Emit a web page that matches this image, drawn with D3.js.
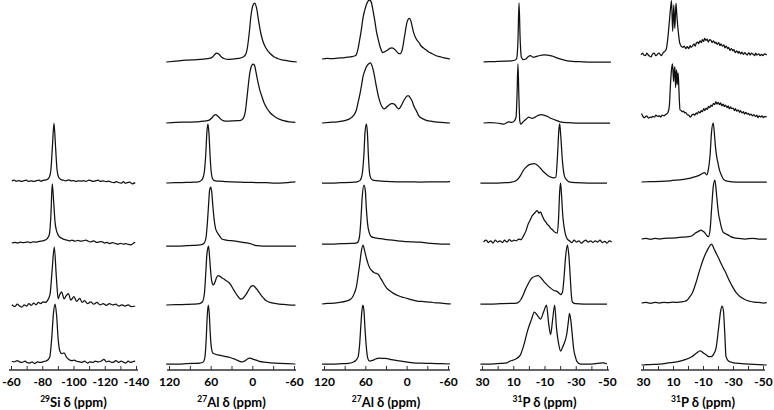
<!DOCTYPE html>
<html><head><meta charset="utf-8">
<script src="https://cdn.jsdelivr.net/npm/d3@7"></script>
<style>
body{margin:0;background:#fff}
svg{display:block}
text{font-family:Lato,"Open Sans",sans-serif;font-weight:700;fill:#000}
</style>
</head><body>
<svg id="chart" width="774" height="410"></svg>
<script>
// ---------------- DATA ----------------
// axis titles
const titleIsotopes = ["29", "27", "27", "31", "31"];
const titleElements = ["Si", "Al", "Al", "P", "P"];
const titleRest = " δ (ppm)";
// axis domains (ppm, left to right)
const axisDomains = [[-60, -140], [120, -60], [120, -60], [30, -50], [30, -50]];
// labelled ticks
const tickLabels = [
  [-60, -80, -100, -120, -140],
  [120, 60, 0, -60],
  [120, 60, 0, -60],
  [30, 10, -10, -30, -50],
  [30, 10, -10, -30, -50]
];
// all tick marks
const tickMarks = [
  [-60, -70, -80, -90, -100, -110, -120, -130, -140],
  [120, 90, 60, 30, 0, -30, -60],
  [120, 90, 60, 30, 0, -30, -60],
  [30, 20, 10, 0, -10, -20, -30, -40, -50],
  [30, 20, 10, 0, -10, -20, -30, -40, -50]
];

// spectra: flat lists of (ppm, relative intensity) pairs
// 29Si (rows 3-6)
const si29Spectra = [
  [-60.5,2,-62,3,-63.5,1.5,-65.5,2.5,-66.5,1,-68,2,-70,3,-71,1,-73,2,-74.5,1,-76,2,-78,3,-79,1.5,-81,3,-83,4,-84.5,8,-85.5,20,-86.5,60,-87.5,100,-88.5,60,-89.5,20,-90.5,8,-92,4,-93.5,3,-95,2,-97,3.5,-98.5,2,-100,2.5,-101.5,1,-103,2,-105,1.5,-106.5,2.5,-108,1,-110,3,-111.5,2,-112.5,1,-114,2,-116,3,-117,1,-119,2,-121,0.5,-122.5,1.5,-124,0,-126,-1,-127.5,0.5,-129,-1,-130.5,-2,-132,0.5,-133,-2,-134.5,-1,-136,0,-137.5,-3,-139.5,-1],
  [-60.5,0,-62.5,1,-64,0,-66,1.5,-67.5,0.5,-69,1,-71,2,-72.5,0.5,-74,2,-76,1.5,-77.5,2.5,-79,3,-81,4,-83,7,-84.5,14,-85.5,45,-86.4,100,-87.3,70,-88.2,35,-89.2,20,-90.3,13,-92.4,8,-94,6,-96,5,-97.5,3.5,-99,5,-101,3,-103,4.5,-104.5,3,-106,3.5,-108,5,-109.5,3,-111,2,-113,3.5,-115,1,-116.5,2,-118,2.5,-120,0,-121.5,1,-123,-1,-125,0.5,-127,-1,-128.5,-2,-130,-0.5,-132,-2,-133.5,-1,-135,-2.5,-137,-3,-138.5,0,-139.5,1],
  [-60.5,2,-62.5,-1,-64,3,-65.5,0,-67,-2,-68.5,2,-70,0,-71.5,4,-73,1,-74.5,5,-76,2,-77.5,6,-79,4,-80.5,7,-82,6,-83.5,10,-85,20,-86.3,60,-87.7,100,-89,50,-90.2,12,-91,18,-92.4,24,-94,12,-95.2,17,-96.7,21,-98.3,10,-100.3,16,-102,8,-104,13,-105.5,6,-107,9,-109,4,-111,7,-113,3,-115,6,-117,2,-119,4,-121,1,-123,4,-125,2,-127,3,-129,0,-131,2,-133,0,-135,2,-137,-1,-139.5,0],
  [-60.5,3,-62,2,-64,4,-65.5,2,-67,1,-69,3,-70.5,0.5,-72,0,-73.5,2,-75,-1,-77,2,-78.5,1,-80,1.5,-81.5,3,-83,4,-84.8,10,-86,40,-87.2,85,-88.2,100,-89.2,80,-90.2,40,-91.3,20,-92.5,16,-94,17,-95.5,10,-97,6,-99,4,-100.5,5,-102,3,-104,2,-105.5,1,-107,3,-109,0,-110.5,2,-112.5,1,-114,3,-116,2,-117.5,3,-119.5,6,-121,2,-122.5,3,-124.5,1,-126,2,-127,4,-129,1,-130.5,3,-132,1.5,-133.5,0,-135,3,-136.5,1,-138,2.5,-139.5,3]
];
// 27Al (first set)
const al27aSpectra = [
  [124,0,110,1.5,95,3,80,4,70,5,62,6,57,9,54,13,51.5,15,48,13,44,8,40,5.5,35,4.5,28,5,20,6,14,8,10,12,7,25,4.4,50,2,78,-0.5,95,-3.4,100,-6,92,-9,70,-12,50,-15,36,-18,27,-21.5,20,-26,14,-31,9,-36,6,-45,3,-55,1,-64,0],
  [124,0,110,1,95,1.5,80,2,70,3,62,5,58,9,55,13,53,14,50,12,46,7,42,4,37,3,30,3.5,22,4,17,4.5,13,8,10,20,8,40,6,62,4,82,2,94,-1,100,-3,98,-5.5,85,-8.3,68,-11,55,-14,44,-17,34,-21,25,-26,17,-31,12,-36,8,-45,4,-53,2,-62,1],
  [124,0,110,0.5,95,1,85,1.5,78,2,74,4,71,9,69,20,67,50,65.5,85,64,100,62.5,85,61,50,59.5,22,58,10,56,5,53,3.5,48,3,40,2.5,30,2,20,1.5,10,1,0,1,-10,0.5,-20,0.5,-30,0,-40,0,-50,0.5,-56,1.5,-62,2],
  [124,0,110,0,95,0.5,85,1,75,2,70,4,67,12,65,35,63,70,61.5,95,60,100,58.5,92,57,70,55,45,53,30,51,24,49,20,46,15,44,12,38,10,30,9,22,8,14,6,6,5,3,4,-2,2,-7,0.5,-15,0,-30,0,-45,0,-63,0],
  [124,0,110,0.5,95,1,85,1.5,76,2.5,72,5,69,20,67,55,65.5,85,64,97,63,100,61.5,80,59.5,50,57.5,36,56,34,54,38,52,45,49.5,50,47,49,44,46,41,44,37.5,41,34.6,39,31,34,28,28,25,22,21,15,18,11,16.6,10,13,12,9,18,5,26,1.5,32,-1,33,-4,30,-7,26,-9.3,22,-13,16,-16,12,-19,8,-24,5,-30,3,-36,2,-45,1,-55,0,-62,0],
  [124,0,110,0,95,0.5,85,1,76,1.5,71,3,68.5,10,66.5,40,65,80,63.5,100,62,85,60.5,50,59,28,57,19,54,17,48,15,40,13,32,11,25,8,19,5,15,3.5,11,5,7,8.5,4,10,1,9,-3,7.5,-9,5,-17,3,-26,2,-40,1,-50,0.5,-62,0]
];
// 27Al (second set)
const al27bSpectra = [
  [123,0,115,1,108,0.5,100,1.5,92,2,86,3,80,4,76,5,73,7.5,70.5,18,68,34,65.5,52,63.5,69,61,82,58.5,92,56,98,53.6,100,51,95,48.7,81,46,63,43.8,46,41,32,38.9,22,36.5,14,35,11,32,12,28,15,24.5,18,21.6,19,18,17,14,12,11,9,9.4,9,6,18,4,32,2,46,0,60,-2,67,-4,69,-6,65,-8,55,-10,45,-13,36,-15.5,31,-17.7,28,-21,22,-24,19,-27.5,16,-32,12,-37,9,-42,6,-48,4,-53,2.5,-58,1,-63,0],
  [123,0,112,1,100,2,90,4,83,7,77,13,73,22,70.5,35,68,48,65.5,64,63.5,78,60,91,57,98,54.5,101,52.6,102,50,96,48,87,46,75,43.5,59,41,45,38.5,35,36,28,32.6,24,29,27,25,31,22,33,20.3,33,17,31,14,26,11.4,24,8,29,5,36,2,42,-1,46,-3,46,-5,43,-8,37,-10,30,-11.5,26,-14,21,-17.7,12,-22,8,-27.5,5,-35,3,-45,1.5,-55,0.5,-63,0],
  [123,0,110,0,95,0.5,80,1,72,2,68,4,66,8,64,20,62,50,60.5,85,58.5,100,57,85,55.5,45,54,18,52,8,49,5,44,4,36,3,25,2.5,10,2,0,2,-20,1.5,-40,2,-55,2,-63,2.5],
  [123,0,110,0,95,0.5,80,1,74,1.5,71,3,68.5,12,66.5,40,64.5,80,62,100,60,90,58.5,60,56.5,32,54,18,51,12,46,10.5,38,9,28,7.5,18,6,8,5,0,4,-10,3.5,-20,3,-30,1.5,-40,0.5,-50,0,-63,0],
  [123,0,115,1,105,1.5,95,3,88,5,83,7,79,11,76,18,73,29,70.5,48,68,69,66,88,63.5,100,61,90,58.5,78,56,68,53.6,61,50,56,47,53,44,52,41,50,38.5,45,36.4,41,33,34,29,27,24,22,19,18,12,14,4.4,11,-5,8,-15,5,-25,4,-35,3,-42,2,-50,1.5,-57,0.5,-64,0],
  [123,0,110,0,95,0.5,85,1,78,3,74,6,70.5,12,68.5,30,66.5,65,65,90,63.5,100,62,90,60.5,60,58.5,28,56.5,10,54,5,50,6,46,8,42,9.5,39,10,34,9.5,28,9,24,8,18,6.5,12,5.5,8,5,0,3.5,-10,2,-20,1.5,-35,1,-50,0.5,-63,0]
];
// 31P (first set)
const p31aSpectra = [
  [29,0,25,0.5,20,1,15,1.5,11,2,9,3,7.8,6,7,35,6.3,100,5.6,40,4.8,8,3.5,4,2,5,0.5,9,-1,11,-2.7,8,-4.5,9,-7,11,-9.6,12,-12,11.5,-15,10,-18,7,-21,4.5,-24.6,2,-28,1,-33,0.5,-40,0,-52.5,0],
  [29,0,25,0.5,21,0,18,-1,16.2,-2,14.5,0,13,2,11,1,9.2,4,8.2,10,7.6,45,7,100,6.4,45,5.8,3,5.2,-2,4,1,2,6,0.1,10,-2,8,-4,10,-6,13,-8,14,-10,13,-12,11,-14,8,-17,5,-20,2,-25,0.5,-30,0,-40,0,-52,0],
  [31,0,25,0,20,0,15,0.5,11,1.5,9,3,7.6,5,5.5,12,3.4,22,1,29,-1.5,32,-3.5,33,-5.5,30,-7.4,25,-9,20,-10.6,16,-12.5,12,-14.5,9.5,-16,8.5,-17.3,10,-18.3,45,-19.2,90,-19.7,100,-20.4,80,-21.4,40,-22.3,18,-23,10,-24.3,5,-25.7,2,-30,0.5,-38,0,-50,0],
  [29,0,27.5,3,26.5,1,26,-1,24.5,2,23.6,0,23,-2,21.5,3,20,0,19.3,1,18.5,2,17,-1,15.5,3,14.7,1,14,0,12.5,4,11,1,10.2,2,9.5,3,8,2,6.5,5,5,4,3.5,10,2,18,0.5,30,-1,38,-2,44,-3,47,-4,50,-5.3,53,-6.5,49,-7.5,51,-8.6,44,-9.7,38,-10.8,34,-11.8,30,-13,27,-14,23,-15,21,-16,18,-17,16,-18.2,15,-19,40,-19.7,85,-20.3,100,-21,75,-21.7,45,-22.5,26,-23.5,12,-24.6,5,-26,2,-27.5,-1,-29,3,-30.5,0,-31.2,1,-32,2,-33.5,-2,-35,1,-36.5,3,-37.3,1,-38,0,-39.5,2,-41,-1,-42.5,2,-43.2,1,-44,0,-45.5,3,-47,-1,-48.5,1,-49.2,0,-50,-2,-51.5,2,-53,0],
  [31,0,25,0,18,0.5,12,1,8,1.5,6.6,3,5,8,3.5,16,2.3,24,0.5,34,-1,41,-2,44,-4,47,-6,48,-7.8,44,-9.6,38,-11.8,32,-13.9,27,-16,23,-18.2,21,-19.5,18,-20.3,16,-21.5,20,-22.5,45,-23.5,80,-24.6,100,-25.5,85,-26.5,45,-27.2,15,-27.9,3,-30,0.5,-35,0,-42,0,-50,0],
  [31,0,25,0,18,1,14,2,12,5,8.7,8,5.5,15,2.9,35,1,55,-1.6,75,-3.5,88,-5,84,-6.1,80,-7.4,76,-9.4,88,-11.3,100,-12.6,70,-13.9,50,-15.2,75,-16.5,100,-17.7,60,-19,35,-20.3,22,-21.5,28,-22.3,33,-24.2,50,-25.2,70,-26,86,-26.8,75,-27.4,60,-28.7,25,-30,10,-30.6,5,-33,0,-40,0,-44,1,-47.4,2,-50,0]
];
// 31P (second set)
const p31bSpectra = [
  [31.3,0,30.2,3,29.5,0,28.3,-1,27.5,3,26.8,1,25.5,-2,24.5,-3,23.8,1,22.5,3,21.5,-1,20.8,0,19.5,3,18.5,1,17.8,-1,16.5,4,15.5,6,14.5,10,13.6,25,12.5,55,11.6,80,11,92,10.2,40,9.5,85,8.8,45,8,88,7.5,70,6.5,40,5.5,20,4.5,15,3.5,13,2.5,15,1.5,11,0.5,14,-0.5,11,-1.5,16,-2,13,-3,15,-4,19,-4.8,15,-5.5,20,-6.5,22,-7,19,-8,24,-9,21,-9.5,26,-10.5,23,-11,28,-12,25,-12.8,27,-13.5,22,-14.5,26,-15.5,24,-16,21,-17,24,-18,20,-18.7,22,-19.5,18,-20.5,21,-21.3,16,-22,19,-23,15,-24,17,-24.6,12,-25.5,15,-26.5,11,-27,13,-28,8,-29,11,-30,7,-30.6,9,-31.5,4,-32.5,7,-33.5,3,-34,6,-35.2,2,-36,5,-37,1,-38,4,-38.6,2,-39.5,0,-40.5,4,-41.5,0,-42.3,3,-43.5,1,-44.5,-1,-45,3,-46,0,-47.2,2,-48,-1,-49,1,-50,-1,-51,2,-52.5,0],
  [31,6,30.2,2,29.3,-1,28.5,0,27.5,2,26.3,-2,25.2,0,24.5,-1,23.5,1,22.2,0,21.5,3,20.2,1,19,2,18.3,0,17.2,3,16,2,15,4,14.3,5,13.3,8,12.4,20,11.8,50,11,80,10.3,90,9.6,60,9.1,80,8.7,85,8.3,50,7.9,72,7.6,80,7.2,55,6.9,68,6.6,75,6.1,50,5.7,25,5.3,12,4.5,11,3.8,9,3,10,2.2,7,1.6,8,0.5,4,-0.5,3,-1.7,0,-2.5,3,-3.8,5,-4.5,3,-5.5,7,-6.2,5,-7,9,-8,7,-8.8,11,-9.5,9,-10.5,14,-11.2,11,-12,15,-13,13,-13.6,18,-14.5,16,-15.3,20,-16,18,-17,23,-17.8,21,-18.6,26,-19.3,22,-20.2,25,-21,21,-21.8,24,-22.5,19,-23.5,22,-24.2,18,-25,20,-26,16,-26.8,19,-27.5,14,-28.5,17,-29,14,-30,15,-31,11,-31.6,14,-32.5,10,-33.5,12,-34.3,8,-35,11,-36,7,-37,9,-37.6,5,-38.5,8,-39.5,5,-40.3,6,-41,3,-42,5,-43,2,-43.8,4,-45,1,-46,3,-46.5,-1,-47.5,2,-48.5,0,-49.3,2,-50.2,-1,-51.2,1,-52.5,0],
  [31,0,25,0.5,18,1,12,2,8,3,3,4.5,-1,6,-4.9,9,-8,12,-10,15,-11,16,-12.5,12,-13.5,20,-14.7,45,-15.7,85,-16.8,100,-17.6,82,-18.3,60,-19.2,42,-20,32,-21,20,-22.2,12,-23.3,6,-24.4,3,-27,1,-32,0,-40,0,-52.5,0],
  [31,0,28,1,25,-0.5,22,1,19,0,16,1,12,1.5,8.1,2,4,3,-0.6,4,-3,6,-4.9,10,-7,13,-8.8,15,-10,13,-11.4,10,-12.5,6,-13.6,4,-14.7,15,-15.7,50,-16.8,88,-17.9,100,-18.8,82,-19.6,60,-20.4,42,-21.2,32,-22.2,20,-23.3,12,-25,9,-26.6,7,-28.5,4,-30.9,2,-34,1,-38,0,-43,1,-47,0,-52.5,0],
  [31,0,28,1,25,-0.5,22,1,19,0,16,1,13,0.5,10,1.5,7,1,4,2,2,3,0.5,5,-1,10,-2.7,16,-4.5,28,-6,40,-7.1,50,-8.7,63,-10.3,75,-12,85,-13.6,93,-15.7,100,-17.3,92,-19,83,-20.6,75,-22.2,66,-23.8,58,-25.4,50,-27.5,38,-29.8,27,-32,18,-34.2,12,-36.4,8,-38.5,5,-41,3,-44,1.5,-47,1,-50.5,0,-52.5,0.5],
  [31,0,27,0.5,23,1,17,2,12,4,6,6,2,9,-2.5,14,-5.5,20,-8.2,24,-10.5,20,-12.3,17,-14,14,-15.5,14,-17,18,-18.8,30,-20.5,65,-21.8,92,-22.7,100,-23.6,92,-24.5,55,-25.3,15,-26.6,8,-28.5,5,-32,3,-37.6,2,-44,1,-52.5,0]
];

// ---------------- LAYOUT ----------------
const panelSpectra = [si29Spectra, al27aSpectra, al27bSpectra, p31aSpectra, p31bSpectra];
const panelRanges = [[11, 136], [169, 294], [324, 448], [482, 607], [643, 763]];
const rowBaselines = [
  [182, 243, 306, 363],
  [62, 123, 183, 246, 305, 364],
  [59, 123, 183, 244, 304, 364],
  [62, 123, 183, 242, 304, 364],
  [55, 117, 182, 239, 303, 365]
];
const rowHeight = 59;
const axisY = 370;

const svg = d3.select("#chart");
const toPairs = a => d3.range(0, a.length, 2).map(i => [a[i], a[i + 1]]);

panelSpectra.forEach((spectra, p) => {
  const x = d3.scaleLinear().domain(axisDomains[p]).range(panelRanges[p]);
  const g = svg.append("g");

  spectra.forEach((flat, r) => {
    const base = rowBaselines[p][r];
    const y = d3.scaleLinear().domain([0, 100]).range([base, base - rowHeight]);
    const line = d3.line().x(d => x(d[0])).y(d => y(d[1])).curve(d3.curveMonotoneX);
    g.append("path")
      .datum(toPairs(flat))
      .attr("d", line)
      .attr("fill", "none")
      .attr("stroke", "#111")
      .attr("stroke-width", 1.25)
      .attr("stroke-linejoin", "round");
  });

  // axis
  const labels = tickLabels[p];
  const axis = d3.axisBottom(x)
    .tickValues(tickMarks[p])
    .tickSizeInner(-4)
    .tickSizeOuter(0)
    .tickPadding(7)
    .tickFormat(d => labels.includes(d) ? String(d) : "");
  const ag = g.append("g").attr("transform", `translate(0,${axisY})`).call(axis);
  ag.select(".domain").remove();
  ag.selectAll(".tick line").attr("stroke", "#333").attr("stroke-width", 1);
  ag.selectAll(".tick text").attr("font-size", 12).attr("font-family", "Lato, 'Open Sans', sans-serif").attr("font-weight", 700).attr("fill", "#000");
  const [r0, r1] = panelRanges[p];
  ag.append("line").attr("x1", r0 - 2).attr("x2", r1 + 2).attr("y1", 0).attr("y2", 0)
    .attr("stroke", "#333").attr("stroke-width", 1.6);

  // title
  const t = g.append("text")
    .attr("x", (r0 + r1) / 2)
    .attr("y", 407)
    .attr("text-anchor", "middle")
    .attr("font-size", 13);
  t.append("tspan").attr("font-size", 8.5).attr("dy", -5).text(titleIsotopes[p]);
  t.append("tspan").attr("dy", 5).text(titleElements[p] + titleRest);
});
</script>
</body></html>
